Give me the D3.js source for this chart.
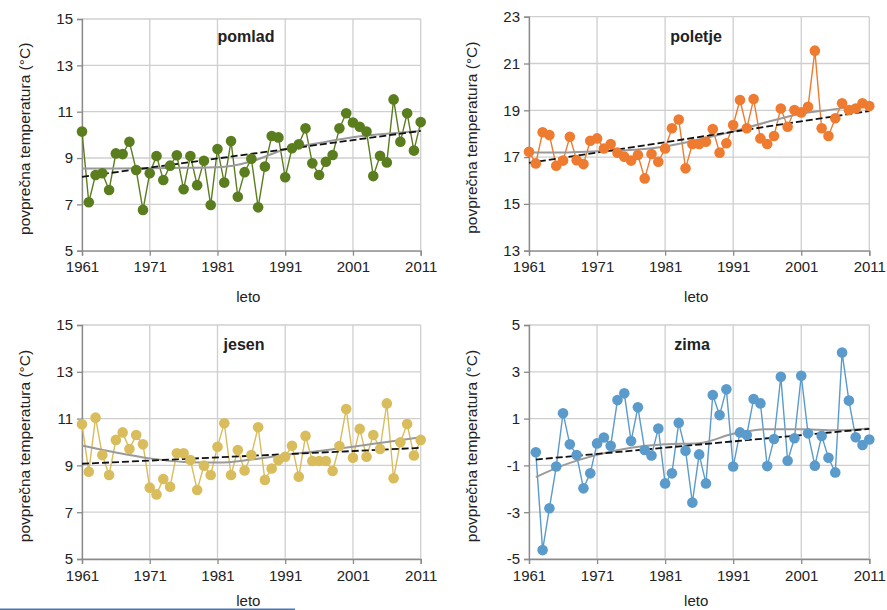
<!DOCTYPE html>
<html>
<head>
<meta charset="utf-8">
<script src="https://cdn.jsdelivr.net/npm/d3@7"></script>
<style>
  body { margin: 0; background: #fff; }
  text { font-family: Arial, "Liberation Sans", sans-serif; fill: #222; }
</style>
</head>
<body>
<svg id="chart" width="887" height="610"></svg>
<script>
// years on the x axis (zima starts with the winter 1961/62)
var years = d3.range(1961, 2012);
var yearsZima = d3.range(1962, 2012);
var xTicks = [1961, 1971, 1981, 1991, 2001, 2011];

var pomlad = [10.14, 7.09, 8.27, 8.34, 7.62, 9.2, 9.17, 9.7, 8.48, 6.76,
  8.34, 9.09, 8.05, 8.67, 9.12, 7.65, 9.09, 7.83, 8.88, 6.97,
  9.39, 7.94, 9.73, 7.33, 8.39, 8.97, 6.87, 8.63, 9.95, 9.89,
  8.17, 9.42, 9.59, 10.28, 8.77, 8.27, 8.84, 9.13, 10.28, 10.93,
  10.53, 10.35, 10.14, 8.22, 9.1, 8.81, 11.53, 9.7, 10.93, 9.32, 10.55];

var poletje = [17.23, 16.73, 18.06, 17.94, 16.63, 16.85, 17.87, 16.87, 16.7, 17.7,
  17.8, 17.37, 17.56, 17.19, 17.02, 16.85, 17.09, 16.09, 17.13, 16.8,
  17.37, 18.23, 18.61, 16.52, 17.56, 17.56, 17.66, 18.2, 17.19, 17.59,
  18.37, 19.44, 18.23, 19.48, 17.8, 17.56, 17.9, 19.08, 18.3, 19.01,
  18.91, 19.15, 21.55, 18.23, 17.9, 18.66, 19.3, 19.01, 19.08, 19.3, 19.18];

var jesen = [10.76, 8.73, 11.04, 9.44, 8.59, 10.09, 10.41, 9.7, 10.3, 9.9,
  8.05, 7.76, 8.42, 8.09, 9.52, 9.52, 9.23, 7.95, 8.99, 8.59,
  9.8, 10.8, 8.59, 9.66, 8.78, 9.44, 10.63, 8.38, 8.87, 9.23,
  9.37, 9.84, 8.52, 10.26, 9.19, 9.19, 9.19, 8.76, 9.83, 11.41,
  9.33, 10.56, 9.37, 10.3, 9.7, 11.65, 8.45, 9.99, 10.77, 9.42, 10.09];

var zima = [-0.44, -4.62, -2.83, -1.05, 1.23, -0.1, -0.56, -1.98, -1.34,
  -0.06, 0.19, -0.16, 1.79, 2.08, 0.04, 1.48, -0.34, -0.58, 0.58,
  -1.77, -1.34, 0.82, -0.37, -2.59, -0.53, -1.77, 2.01, 1.15, 2.25,
  -1.05, 0.41, 0.3, 1.84, 1.65, -1.03, 0.13, 2.79, -0.8, 0.16,
  2.83, 0.37, -1.01, 0.26, -0.67, -1.3, 3.82, 1.77, 0.2, -0.13, 0.11];

// linear trend, value at first and last year
var pomladTrend = [8.19, 10.17];
var poletjeTrend = [16.75, 18.97];
var jesenTrend = [9.07, 9.75];
var zimaTrend = [-0.75, 0.56];

var smoothYears = [1961, 1966, 1971, 1976, 1981, 1986, 1991, 1996, 2001, 2006, 2011];
var smoothYearsZima = [1962, 1966, 1971, 1976, 1981, 1986, 1991, 1996, 2001, 2006, 2011];
var pomladSmooth = [8.55, 8.55, 8.56, 8.58, 8.6, 8.85, 9.38, 9.65, 9.9, 10.05, 10.17];
var poletjeSmooth = [17.2, 17.2, 17.25, 17.3, 17.45, 17.75, 18.1, 18.5, 18.85, 19.05, 19.27];
var jesenSmooth = [9.85, 9.55, 9.3, 9.15, 9.12, 9.25, 9.45, 9.62, 9.8, 10.0, 10.2];
var zimaSmooth = [-1.5, -1.0, -0.55, -0.25, -0.1, -0.05, 0.35, 0.55, 0.55, 0.5, 0.58];

var pomladTicks = [5, 7, 9, 11, 13, 15];
var poletjeTicks = [13, 15, 17, 19, 21, 23];
var jesenTicks = [5, 7, 9, 11, 13, 15];
var zimaTicks = [-5, -3, -1, 1, 3, 5];

var panels = [
  {title: "pomlad", yrs: years, vals: pomlad, trend: pomladTrend, sy: smoothYears, sv: pomladSmooth,
   ticks: pomladTicks, color: "#5a7d1e", x0: 82, x1: 420.7, top: 19, bot: 250.7, tx: 246, ty: 42, ly: 302},
  {title: "poletje", yrs: years, vals: poletje, trend: poletjeTrend, sy: smoothYears, sv: poletjeSmooth,
   ticks: poletjeTicks, color: "#ee7b2f", x0: 529, x1: 869.3, top: 16.7, bot: 250.7, tx: 696, ty: 42, ly: 302},
  {title: "jesen", yrs: years, vals: jesen, trend: jesenTrend, sy: smoothYears, sv: jesenSmooth,
   ticks: jesenTicks, color: "#d9bc5b", x0: 82, x1: 420.7, top: 325, bot: 559, tx: 244, ty: 350, ly: 606},
  {title: "zima", yrs: yearsZima, vals: zima, trend: zimaTrend, sy: smoothYearsZima, sv: zimaSmooth,
   ticks: zimaTicks, color: "#5a9bcb", x0: 529, x1: 869.3, top: 325, bot: 559, tx: 692, ty: 350, ly: 606}
];

var svg = d3.select("#chart");

panels.forEach(function(p) {
  var x = d3.scaleLinear().domain([1961, 2011]).range([p.x0, p.x1]);
  var y = d3.scaleLinear().domain([p.ticks[0], p.ticks[p.ticks.length - 1]]).range([p.bot, p.top]);
  var g = svg.append("g");

  // grid
  g.selectAll(".hg").data(p.ticks).enter().append("line")
      .attr("x1", p.x0).attr("x2", p.x1)
      .attr("y1", function(d) { return y(d); }).attr("y2", function(d) { return y(d); })
      .attr("stroke", "#cfcfcf").attr("stroke-width", 1.3);
  g.selectAll(".vg").data(xTicks).enter().append("line")
      .attr("x1", function(d) { return x(d); }).attr("x2", function(d) { return x(d); })
      .attr("y1", p.top).attr("y2", p.bot)
      .attr("stroke", "#cfcfcf").attr("stroke-width", 1.3);

  // axes (plain hyphen for negative numbers, as in the original)
  var yAxis = d3.axisLeft(y).tickValues(p.ticks).tickSize(5).tickPadding(4)
      .tickFormat(function(d) { return String(d); });
  var xAxis = d3.axisBottom(x).tickValues(xTicks).tickFormat(d3.format("d")).tickSize(5).tickPadding(6);
  var ya = g.append("g").attr("transform", "translate(" + p.x0 + ",0)").call(yAxis);
  var xa = g.append("g").attr("transform", "translate(0," + p.bot + ")").call(xAxis);
  [ya, xa].forEach(function(a) {
    a.select(".domain").attr("stroke", "#8a8a8a").attr("stroke-width", 1.3);
    a.selectAll(".tick line").attr("stroke", "#8a8a8a").attr("stroke-width", 1.3);
    a.selectAll(".tick text").attr("font-size", 15).attr("fill", "#222")
      .attr("font-family", "Arial, 'Liberation Sans', sans-serif");
  });

  // series
  var line = d3.line()
      .x(function(d, i) { return x(p.yrs[i]); })
      .y(function(d) { return y(d); });
  g.append("path").datum(p.vals)
      .attr("d", line).attr("fill", "none")
      .attr("stroke", p.color).attr("stroke-width", 1.4);

  // smooth curve
  var smooth = d3.line()
      .x(function(d, i) { return x(p.sy[i]); })
      .y(function(d) { return y(d); })
      .curve(d3.curveMonotoneX);
  g.append("path").datum(p.sv)
      .attr("d", smooth).attr("fill", "none")
      .attr("stroke", "#9a9a9a").attr("stroke-width", 2);

  // linear trend
  var ty = [p.yrs[0], p.yrs[p.yrs.length - 1]];
  g.append("path").datum(p.trend)
      .attr("d", d3.line().x(function(d, i) { return x(ty[i]); }).y(function(d) { return y(d); }))
      .attr("fill", "none").attr("stroke", "#111")
      .attr("stroke-width", 1.8).attr("stroke-dasharray", "7,3");

  g.selectAll(".pt").data(p.vals).enter().append("circle")
      .attr("cx", function(d, i) { return x(p.yrs[i]); })
      .attr("cy", function(d) { return y(d); })
      .attr("r", 5.3).attr("fill", p.color);

  // labels
  g.append("text").attr("x", p.tx).attr("y", p.ty)
      .attr("text-anchor", "middle").attr("font-size", 16).attr("font-weight", "bold")
      .attr("fill", "#1c1c34").text(p.title);

  var cy = (p.top + p.bot) / 2 + 4;
  g.append("text")
      .attr("transform", "translate(" + (p.x0 - 52) + "," + cy + ") rotate(-90)")
      .attr("text-anchor", "middle").attr("font-size", 15.5)
      .attr("fill", "#333").text("povprečna temperatura (°C)");

  g.append("text").attr("x", (p.x0 + p.x1) / 2 - 3).attr("y", p.ly)
      .attr("text-anchor", "middle").attr("font-size", 15)
      .attr("fill", "#333").text("leto");
});

// thin blue rule at the very bottom of the page
svg.append("line").attr("x1", 0).attr("x2", 295).attr("y1", 609.3).attr("y2", 609.3)
    .attr("stroke", "#4a78b0").attr("stroke-width", 1.5);
</script>
</body>
</html>
